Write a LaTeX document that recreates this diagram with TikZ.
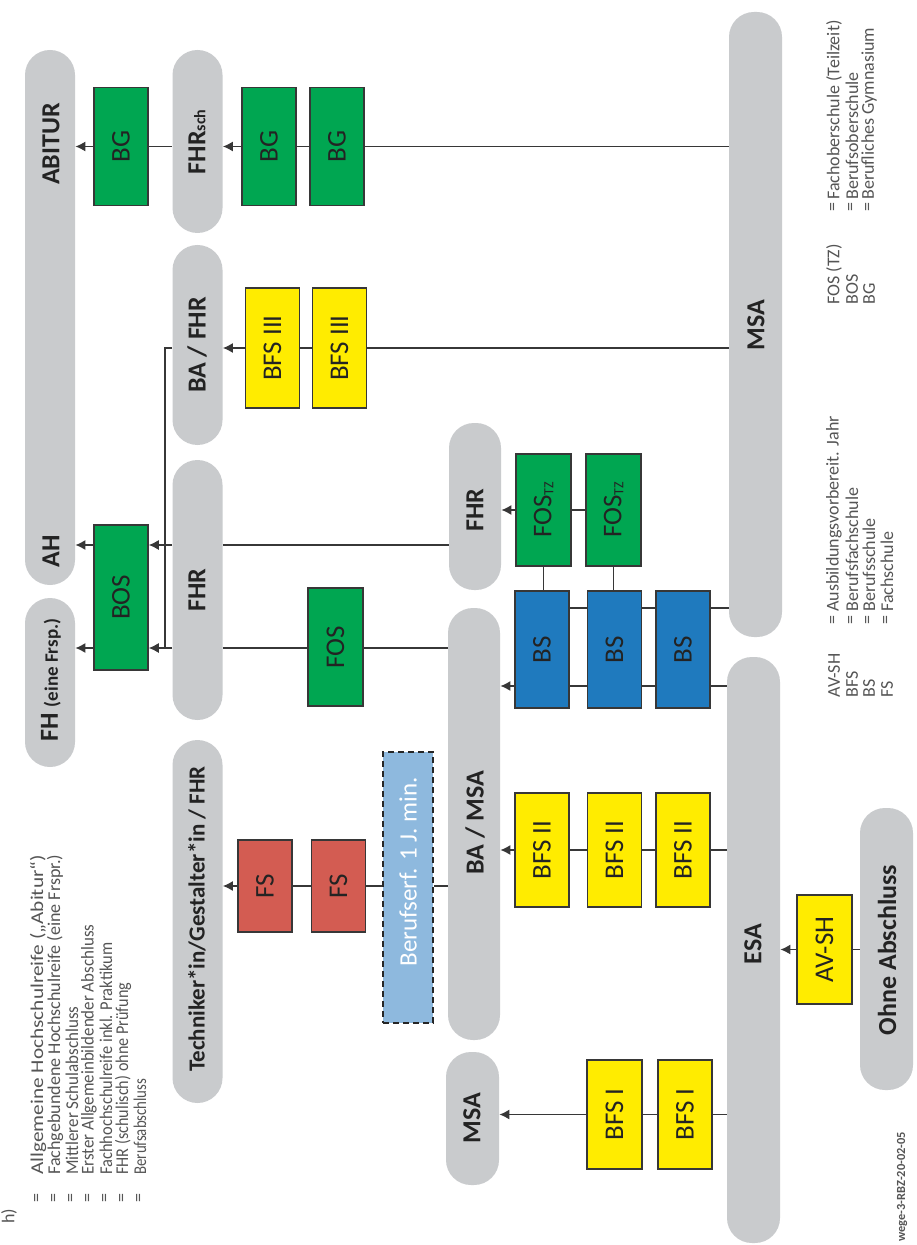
\documentclass[tikz,border=0pt]{standalone}
\usepackage{fontspec}
\setmainfont{Carlito}
\usepackage{graphicx}
\usetikzlibrary{arrows.meta}
\definecolor{bargrey}{RGB}{201,203,205}
\definecolor{bgreen}{RGB}{0,166,81}
\definecolor{byellow}{RGB}{255,236,0}
\definecolor{bblue}{RGB}{31,122,190}
\definecolor{bred}{RGB}{211,92,82}
\definecolor{blight}{RGB}{142,185,222}
\definecolor{lnc}{RGB}{55,55,55}
\definecolor{txt}{RGB}{35,35,35}
\definecolor{legtxt}{RGB}{85,85,85}
\newcommand{\mkbox}[7]{\node[stbox, fill=#2, minimum width=#5, minimum height=#6] (#1) at (#3,#4) {\rotatebox{90}{#7}};}
\newcommand{\mkpill}[5]{\node[pill, minimum width=#4, minimum height=#5] (#1) at (#2,#3) {};}
\newcommand{\fitw}[2]{\resizebox{#1}{\height}{#2}}
\begin{document}
\begin{tikzpicture}[x=0.5pt,y=-0.5pt,
 pill/.style={fill=bargrey, draw=none, rounded corners=12.5pt, inner sep=0pt},
 barlabel/.style={rotate=90, font=\bfseries\fontsize{13}{15}\selectfont, text=txt, inner sep=0pt},
 stbox/.style={draw=lnc, line width=0.75pt, inner sep=0pt, font=\fontsize{13.5}{15}\selectfont, text=txt},
 conn/.style={draw=lnc, line width=0.65pt},
 arr/.style={conn, -{Latex[length=5pt,width=5pt]}},
 legtext/.style={rotate=90, anchor=west, font=\fontsize{9}{10}\selectfont, text=legtxt, inner sep=0pt},
 legeq/.style={rotate=90, font=\fontsize{9}{10}\selectfont, text=legtxt, inner sep=0pt},
]
\path[use as bounding box, fill=white] (0,0) rectangle (916,1245);

% ---------- bars ----------
\mkpill{abitur}{50}{317.5}{25pt}{267.5pt}
\mkpill{fh}{50}{682.5}{25pt}{84.5pt}
\mkpill{fhrsch}{197.5}{141.5}{25pt}{91.5pt}
\mkpill{bafhr}{197.5}{345}{25pt}{100pt}
\mkpill{fhr}{197.5}{590}{25pt}{130pt}
\mkpill{techn}{197.5}{921.5}{25pt}{181.5pt}
\mkpill{fhrr}{475}{506.5}{26pt}{83.5pt}
\mkpill{bamsa}{474}{824}{26pt}{216pt}
\mkpill{msas}{472.5}{1118.5}{26.5pt}{66.5pt}
\mkpill{msa}{755.5}{324.5}{26.5pt}{312.5pt}
\mkpill{esa}{753.5}{950}{26.5pt}{293pt}
\mkpill{ohne}{886.5}{949}{26.5pt}{141pt}

% ---------- bar labels ----------
\node[barlabel] (labitur) at (51,144) {ABITUR};
\node[barlabel] (lah) at (51,551) {AH};
\node[barlabel] (lfh) at (51,680) {FH {\fontsize{9.5}{11}\selectfont(eine Frsp.)}};
\node[barlabel] (lfhrsch) at (197,142) {FHR{\fontsize{8}{9}\selectfont sch}};
\node[barlabel] (lbafhr) at (197,345) {BA / FHR};
\node[barlabel] (lfhr) at (197,590) {FHR};
\node[barlabel, font=\bfseries\fontsize{11.5}{13}\selectfont] (ltechn) at (197,919) {Techniker*in/Gestalter*in / FHR};
\node[barlabel] (lfhrr) at (475,510) {FHR};
\node[barlabel] (lbamsa) at (475,823) {BA / MSA};
\node[barlabel] (lmsas) at (472,1118) {MSA};
\node[barlabel] (lmsa) at (756,325) {MSA};
\node[barlabel] (lesa) at (753,944) {ESA};
\node[barlabel] (lohne) at (887,950) {Ohne Abschluss};

% ---------- boxes ----------
\mkbox{bgA}{bgreen}{121}{146.5}{27pt}{59pt}{BG}
\mkbox{bgB}{bgreen}{269}{146.5}{27pt}{59pt}{BG}
\mkbox{bgC}{bgreen}{337}{146.5}{27pt}{59pt}{BG}
\mkbox{b3a}{byellow}{272.5}{348}{27pt}{60pt}{BFS III}
\mkbox{b3b}{byellow}{339.5}{348}{27pt}{60pt}{BFS III}
\mkbox{bos}{bgreen}{121}{597.5}{27pt}{72.5pt}{BOS}
\mkbox{fos}{bgreen}{335.5}{647}{27.5pt}{59pt}{FOS}
\mkbox{ftA}{bgreen}{543.5}{510}{27.5pt}{56pt}{FOS{\fontsize{7}{8}\selectfont\raisebox{-0.3ex}{TZ}}}
\mkbox{ftB}{bgreen}{613.5}{510}{27.5pt}{56pt}{FOS{\fontsize{7}{8}\selectfont\raisebox{-0.3ex}{TZ}}}
\mkbox{bsA}{bblue}{542}{649.5}{27pt}{58.5pt}{BS}
\mkbox{bsB}{bblue}{614.5}{649.5}{27pt}{58.5pt}{BS}
\mkbox{bsC}{bblue}{683}{649.5}{27pt}{58.5pt}{BS}
\mkbox{fsA}{bred}{265}{886}{27pt}{46pt}{FS}
\mkbox{fsB}{bred}{338.5}{886}{27pt}{46pt}{FS}
\node[draw=black!85, fill=blight, line width=0.9pt, dash pattern=on 3pt off 2pt, minimum width=25pt, minimum height=135.5pt, inner sep=0pt] (beruf) at (408,887.5) {};
\node[rotate=90, font=\fontsize{12.5}{14}\selectfont, text=white, inner sep=0pt] (lberuf) at (408,872) {Berufserf. 1 J. min.};
\mkbox{b2a}{byellow}{542}{850}{27pt}{57pt}{BFS II}
\mkbox{b2b}{byellow}{614.5}{850}{27pt}{57pt}{BFS II}
\mkbox{b2c}{byellow}{683}{850}{27pt}{57pt}{BFS II}
\mkbox{b1a}{byellow}{614.5}{1114.5}{27.5pt}{54.5pt}{BFS I}
\mkbox{b1b}{byellow}{685}{1114.5}{27pt}{54.5pt}{BFS I}
\mkbox{avsh}{byellow}{824.5}{949.5}{27.5pt}{54.5pt}{AV-SH}

% ---------- connectors ----------
\coordinate (brk) at (165,348);
\coordinate (rowA) at (0,545);
\coordinate (rowB) at (0,648);
\coordinate (rowC) at (0,608);
\coordinate (rowD) at (0,686);

\draw[arr] (bgA.west) -- (bgA.west -| abitur.east);
\draw[conn] (bgA.east) -- (bgA.east -| fhrsch.west);
\draw[arr] (bgB.west) -- (bgB.west -| fhrsch.east);
\draw[conn] (bgB.east) -- (bgC.west);
\draw[conn] (bgC.east) -- (bgC.east -| msa.west);

\draw[arr] (b3a.west) -- (b3a.west -| bafhr.east);
\draw[conn] (b3a.east) -- (b3b.west);
\draw[conn] (b3b.east) -- (b3b.east -| msa.west);

\draw[conn] (bafhr.west |- brk) -- (brk) -- (brk |- rowB);
\draw[arr] (fhr.west |- rowA) -- (bos.east |- rowA);
\draw[arr] (fhr.west |- rowB) -- (bos.east |- rowB);
\draw[arr] (bos.west |- rowA) -- (abitur.east |- rowA);
\draw[arr] (bos.west |- rowB) -- (fh.east |- rowB);
\draw[conn] (fhr.east |- rowA) -- (fhrr.west |- rowA);
\draw[conn] (fhr.east |- rowB) -- (fos.west |- rowB);
\draw[conn] (fos.east |- rowB) -- (bamsa.west |- rowB);

\draw[arr] (ftA.west) -- (ftA.west -| fhrr.east);
\draw[conn] (ftA.east) -- (ftB.west);
\draw[conn] (ftA.south) -- (ftA.south |- bsA.north);
\draw[conn] (ftB.south) -- (ftB.south |- bsB.north);

\draw[conn] (bsA.east |- rowC) -- (bsB.west |- rowC);
\draw[conn] (bsB.east |- rowC) -- (bsC.west |- rowC);
\draw[conn] (bsA.east |- rowD) -- (bsB.west |- rowD);
\draw[conn] (bsB.east |- rowD) -- (bsC.west |- rowD);
\draw[conn] (bsC.east |- rowC) -- (msa.west |- rowC);
\draw[conn] (bsC.east |- rowD) -- (esa.west |- rowD);
\draw[arr] (bsA.west |- rowD) -- (bamsa.east |- rowD);

\draw[arr] (fsA.west) -- (fsA.west -| techn.east);
\draw[conn] (fsA.east) -- (fsB.west);
\draw[conn] (fsB.east) -- (fsB.east -| beruf.west);
\draw[conn] (fsB.east -| beruf.east) -- (fsB.east -| bamsa.west);

\draw[arr] (b2a.west) -- (b2a.west -| bamsa.east);
\draw[conn] (b2a.east) -- (b2b.west);
\draw[conn] (b2b.east) -- (b2c.west);
\draw[conn] (b2c.east) -- (b2c.east -| esa.west);

\draw[arr] (b1a.west) -- (b1a.west -| msas.east);
\draw[conn] (b1a.east) -- (b1b.west);
\draw[conn] (b1b.east) -- (b1b.east -| esa.west);

\draw[arr] (avsh.west) -- (avsh.west -| esa.east);
\draw[conn] (avsh.east) -- (avsh.east -| ohne.west);

% ---------- left legend ----------
\node[legeq] (le1) at (38,1198) {=};
\node[legeq] (le2) at (55,1198) {=};
\node[legeq] (le3) at (72,1198) {=};
\node[legeq] (le4) at (89,1198) {=};
\node[legeq] (le5) at (106,1198) {=};
\node[legeq] (le6) at (123,1198) {=};
\node[legeq] (le7) at (140,1198) {=};
\node[legtext] (lt1) at (38,1175) {\fitw{160pt}{Allgemeine Hochschulreife („Abitur“)}};
\node[legtext] (lt2) at (55,1175) {\fitw{160pt}{Fachgebundene Hochschulreife (eine Frspr.)}};
\node[legtext] (lt3) at (72,1175) {\fitw{84pt}{Mittlerer Schulabschluss}};
\node[legtext] (lt4) at (89,1175) {\fitw{125pt}{Erster Allgemeinbildender Abschluss}};
\node[legtext] (lt5) at (106,1175) {\fitw{116pt}{Fachhochschulreife inkl. Praktikum}};
\node[legtext] (lt6) at (123,1175) {\fitw{96pt}{FHR (schulisch) ohne Prüfung}};
\node[legtext] (lt7) at (140,1175) {\fitw{48pt}{Berufsabschluss}};
\node[legtext] (lh) at (9,1224) {h)};

% ---------- right legend ----------
\node[legtext] (ra1) at (834,305) {FOS (TZ)};
\node[legtext] (ra2) at (852,305) {BOS};
\node[legtext] (ra3) at (869,305) {BG};
\node[legeq] (re1) at (834,207) {=};
\node[legeq] (re2) at (852,207) {=};
\node[legeq] (re3) at (869,207) {=};
\node[legtext] (rt1) at (834,200) {Fachoberschule (Teilzeit)};
\node[legtext] (rt2) at (852,200) {Berufsoberschule};
\node[legtext] (rt3) at (869,200) {Berufliches Gymnasium};

\node[legtext] (rb1) at (834,698) {AV-SH};
\node[legtext] (rb2) at (852,698) {BFS};
\node[legtext] (rb3) at (869,698) {BS};
\node[legtext] (rb4) at (887,698) {FS};
\node[legeq] (rf1) at (834,620) {=};
\node[legeq] (rf2) at (852,620) {=};
\node[legeq] (rf3) at (869,620) {=};
\node[legeq] (rf4) at (887,620) {=};
\node[legtext] (rg1) at (834,612) {Ausbildungsvorbereit. Jahr};
\node[legtext] (rg2) at (852,612) {Berufsfachschule};
\node[legtext] (rg3) at (869,612) {Berufsschule};
\node[legtext] (rg4) at (887,612) {Fachschule};

\node[rotate=90, anchor=west, font=\bfseries\fontsize{6.2}{7}\selectfont, text=legtxt, inner sep=0pt] (foot) at (902,1242) {wege-3-RBZ-20-02-05};
\end{tikzpicture}
\end{document}
